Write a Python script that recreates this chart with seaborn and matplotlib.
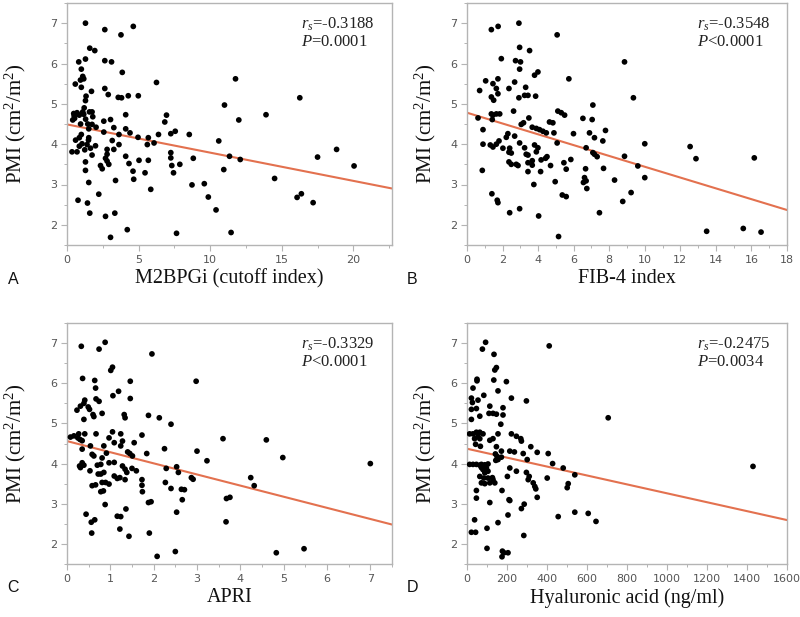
import numpy as np
import pandas as pd
import matplotlib
matplotlib.use("Agg")
import matplotlib.pyplot as plt
from matplotlib.ticker import MultipleLocator
import seaborn as sns

# ---------------- data ----------------
m2bpgi_x = [1.29, 2.64, 4.63, 3.77, 1.59, 1.94, 0.82, 1.29, 2.64, 3.11, 1.0, 3.86, 1.1, 1.17, 0.94,
            0.58, 1.0, 6.25, 11.77, 2.64, 1.71, 2.88, 1.33, 1.29, 3.58, 3.81, 4.28, 4.98, 16.26, 11.0,
            1.57, 1.75, 0.7, 0.86, 1.17, 0.53, 0.47, 4.1, 6.95, 3.04, 2.57, 6.83, 12.0, 13.9, 1.75,
            2.03, 1.52, 3.27, 4.1, 4.4, 2.57, 3.63, 4.96, 7.25, 7.56, 8.54, 6.39, 5.68, 6.08, 5.61,
            10.6, 1.0, 0.86, 1.52, 1.05, 0.86, 1.4, 1.64, 1.99, 1.24, 3.16, 3.63, 2.8, 3.27, 0.7,
            0.35, 1.75, 2.8, 4.1, 7.25, 7.25, 18.83, 11.35, 12.1, 17.5, 8.82, 2.69, 2.8, 2.92, 2.34,
            2.46, 5.03, 5.68, 4.33, 7.32, 7.88, 20.05, 1.29, 1.29, 10.95, 4.61, 5.45, 7.44, 4.66, 3.39,
            1.52, 14.5, 8.73, 9.59, 5.85, 2.22, 9.87, 16.07, 16.37, 17.19, 0.77, 1.43, 1.59, 2.69, 3.34,
            10.41, 4.21, 3.04, 7.65, 11.46, 0.5, 1.3, 1.45, 0.95, 1.2, 1.5, 0.6, 0.4, 1.1, 1.8]
m2bpgi_y = [7.0, 6.84, 6.92, 6.71, 6.38, 6.32, 6.04, 6.11, 6.07, 6.04, 5.86, 5.78, 5.68, 5.62, 5.59,
            5.49, 5.41, 5.53, 5.62, 5.38, 5.31, 5.23, 5.19, 5.08, 5.16, 5.15, 5.2, 5.2, 5.15, 4.97,
            4.8, 4.8, 4.78, 4.72, 4.74, 4.64, 4.76, 4.73, 4.72, 4.61, 4.57, 4.55, 4.6, 4.73, 4.49,
            4.42, 4.38, 4.41, 4.38, 4.28, 4.3, 4.24, 4.17, 4.26, 4.32, 4.24, 4.24, 4.16, 4.03, 3.99,
            4.08, 4.24, 4.16, 4.16, 4.01, 3.95, 3.99, 3.9, 3.96, 3.86, 4.09, 3.99, 3.87, 3.87, 3.81,
            3.81, 3.73, 3.75, 3.7, 3.79, 3.66, 3.87, 3.7, 3.62, 3.68, 3.65, 3.65, 3.58, 3.5, 3.47,
            3.39, 3.6, 3.6, 3.52, 3.47, 3.5, 3.46, 3.56, 3.35, 3.37, 3.33, 3.29, 3.29, 3.13, 3.1,
            3.05, 3.15, 2.99, 3.02, 2.88, 2.76, 2.69, 2.68, 2.77, 2.55, 2.61, 2.54, 2.29, 2.21, 2.29,
            2.37, 1.88, 1.69, 1.79, 1.81, 4.7, 4.62, 4.5, 4.5, 4.9, 4.1, 4.1, 4.6, 4.8, 4.68]

fib4_x = [1.37, 1.75, 2.92, 5.07, 2.96, 3.52, 1.93, 2.73, 3.01, 2.96, 3.99, 3.8, 8.86, 1.05, 1.46,
          1.74, 5.73, 2.68, 0.71, 1.65, 1.74, 2.36, 3.3, 1.37, 1.5, 2.92, 3.24, 3.43, 3.86, 9.36,
          7.08, 2.62, 1.37, 1.46, 1.65, 1.84, 1.42, 5.11, 5.3, 5.49, 0.62, 3.48, 6.52, 7.04, 4.64,
          4.83, 3.05, 3.18, 0.9, 3.67, 3.9, 4.08, 4.27, 4.46, 2.3, 2.21, 2.68, 4.89, 5.99, 6.89,
          7.79, 7.17, 7.64, 1.8, 1.65, 1.31, 1.46, 2.02, 2.4, 0.9, 2.96, 3.24, 3.8, 3.99, 5.07,
          6.7, 10.0, 12.55, 2.36, 2.49, 3.33, 3.43, 3.9, 4.5, 4.42, 4.17, 3.67, 7.08, 7.17, 7.32,
          8.86, 12.88, 16.16, 5.84, 2.36, 2.49, 2.77, 2.87, 3.43, 3.67, 4.7, 5.45, 5.58, 6.67, 7.68,
          9.61, 0.86, 3.43, 4.14, 6.61, 6.7, 6.55, 10.0, 8.3, 4.96, 3.76, 6.74, 1.4, 5.36, 5.58,
          9.23, 1.7, 1.74, 8.76, 2.96, 2.4, 7.45, 4.03, 13.48, 15.54, 16.54, 5.15]
fib4_y = [6.84, 6.92, 7.0, 6.71, 6.4, 6.32, 6.12, 6.07, 6.04, 5.86, 5.79, 5.71, 6.04, 5.57, 5.5,
          5.62, 5.62, 5.54, 5.33, 5.38, 5.25, 5.38, 5.41, 5.17, 5.09, 5.15, 5.21, 5.21, 5.19, 5.15,
          4.97, 4.82, 4.75, 4.72, 4.75, 4.75, 4.61, 4.82, 4.78, 4.72, 4.65, 4.65, 4.64, 4.61, 4.55,
          4.53, 4.49, 4.53, 4.36, 4.42, 4.39, 4.36, 4.32, 4.28, 4.26, 4.17, 4.2, 4.28, 4.26, 4.28,
          4.34, 4.16, 4.08, 4.08, 4.0, 3.98, 3.93, 3.9, 3.9, 4.0, 4.03, 3.91, 3.98, 3.91, 4.03,
          3.91, 4.01, 3.94, 3.8, 3.78, 3.75, 3.73, 3.81, 3.69, 3.65, 3.61, 3.59, 3.79, 3.75, 3.69,
          3.7, 3.64, 3.66, 3.62, 3.56, 3.5, 3.5, 3.47, 3.54, 3.48, 3.47, 3.54, 3.38, 3.39, 3.4,
          3.46, 3.35, 3.32, 3.32, 3.17, 3.09, 3.05, 3.17, 3.11, 3.07, 3.0, 2.9, 2.77, 2.74, 2.7,
          2.8, 2.61, 2.55, 2.58, 2.4, 2.3, 2.3, 2.22, 1.84, 1.91, 1.82, 1.71]

apri_x = [0.33, 0.74, 0.88, 1.96, 1.01, 1.05, 0.36, 0.64, 0.66, 1.46, 2.98, 1.19, 1.06, 1.46, 0.67,
          0.74, 0.41, 0.39, 0.31, 0.23, 0.49, 0.52, 0.81, 0.6, 0.62, 1.32, 1.34, 1.88, 2.13, 2.4,
          0.39, 0.27, 0.16, 0.08, 0.41, 0.3, 0.25, 0.35, 0.67, 1.05, 1.24, 0.97, 1.09, 1.28, 1.24,
          1.55, 1.73, 3.6, 4.6, 0.54, 0.85, 0.35, 1.4, 1.45, 1.51, 1.84, 2.25, 3.0, 0.91, 0.58,
          0.62, 3.23, 4.98, 7.0, 0.35, 0.29, 0.31, 0.39, 0.7, 0.78, 0.97, 1.09, 0.81, 1.28, 1.34,
          1.38, 1.5, 1.6, 0.53, 0.72, 0.78, 0.85, 1.09, 1.16, 1.22, 1.34, 2.29, 2.53, 2.57, 2.87,
          2.91, 2.27, 2.4, 2.64, 2.71, 1.73, 1.73, 1.74, 4.24, 4.32, 0.58, 0.66, 0.81, 0.89, 0.97,
          0.78, 0.84, 2.66, 3.68, 3.76, 0.88, 1.88, 1.94, 1.36, 0.44, 2.53, 1.16, 1.24, 0.64, 0.56,
          3.67, 1.22, 0.57, 1.9, 1.43, 2.5, 2.08, 4.83, 5.47]
apri_y = [6.92, 6.85, 7.02, 6.73, 6.32, 6.4, 6.12, 6.07, 5.88, 6.05, 6.05, 5.8, 5.69, 5.62, 5.61,
          5.55, 5.58, 5.5, 5.43, 5.33, 5.41, 5.35, 5.25, 5.22, 5.17, 5.22, 5.14, 5.2, 5.14, 4.98,
          5.1, 4.74, 4.69, 4.66, 4.74, 4.6, 4.64, 4.57, 4.74, 4.79, 4.74, 4.64, 4.52, 4.56, 4.44,
          4.52, 4.71, 4.62, 4.59, 4.44, 4.44, 4.36, 4.29, 4.25, 4.19, 4.25, 4.37, 4.31, 4.26, 4.23,
          4.19, 4.07, 4.15, 4.0, 4.02, 3.94, 3.9, 3.96, 3.96, 3.98, 4.02, 4.03, 4.14, 3.94, 3.86,
          3.78, 3.88, 3.82, 3.82, 3.74, 3.74, 3.78, 3.69, 3.63, 3.65, 3.6, 3.88, 3.92, 3.78, 3.65,
          3.61, 3.53, 3.38, 3.36, 3.35, 3.6, 3.46, 3.3, 3.65, 3.45, 3.45, 3.47, 3.53, 3.53, 3.49,
          3.3, 3.32, 3.1, 3.13, 3.16, 2.98, 3.03, 3.05, 2.87, 2.74, 2.79, 2.69, 2.68, 2.6, 2.54,
          2.55, 2.37, 2.27, 2.27, 2.19, 1.81, 1.69, 1.78, 1.88]

ha_x = [93, 77, 135, 411, 147, 139, 134, 197, 50, 50, 30, 155, 84, 22, 27, 55, 222, 297, 114, 180,
        22, 47, 110, 130, 147, 180, 22, 64, 169, 706, 13, 30, 47, 64, 80, 55, 38, 64, 155, 222,
        247, 269, 272, 114, 130, 147, 43, 67, 319, 172, 214, 237, 281, 351, 406, 142, 150, 301, 155,
        13, 30, 47, 64, 72, 89, 105, 172, 144, 214, 428, 481, 539, 1430, 72, 80, 89, 97, 105, 64,
        84, 105, 114, 72, 89, 130, 139, 127, 247, 297, 311, 306, 202, 401, 331, 339, 344, 506, 501,
        47, 175, 351, 47, 210, 214, 286, 114, 272, 205, 539, 606, 456, 645, 38, 155, 100, 22, 43,
        284, 100, 177, 205, 185, 175]
ha_y = [7.02, 6.85, 6.72, 6.93, 6.39, 6.33, 6.08, 6.04, 6.1, 6.06, 5.88, 5.81, 5.7, 5.63, 5.52,
        5.58, 5.63, 5.56, 5.43, 5.39, 5.35, 5.37, 5.25, 5.25, 5.23, 5.21, 5.1, 5.18, 4.98, 5.14,
        4.74, 4.74, 4.78, 4.78, 4.74, 4.68, 4.62, 4.62, 4.74, 4.74, 4.68, 4.62, 4.56, 4.58, 4.62,
        4.42, 4.48, 4.43, 4.42, 4.31, 4.31, 4.29, 4.25, 4.28, 4.25, 4.24, 4.18, 4.1, 4.1, 3.98,
        3.98, 3.98, 3.96, 3.98, 3.97, 3.99, 4.16, 4.08, 3.89, 4.0, 3.89, 3.72, 3.93, 3.9, 3.85,
        3.77, 3.89, 3.81, 3.68, 3.64, 3.64, 3.52, 3.52, 3.5, 3.6, 3.52, 3.65, 3.81, 3.78, 3.68,
        3.6, 3.68, 3.64, 3.52, 3.43, 3.37, 3.5, 3.4, 3.33, 3.33, 3.16, 3.14, 3.1, 3.08, 2.99,
        3.03, 2.88, 2.72, 2.79, 2.76, 2.68, 2.56, 2.6, 2.53, 2.39, 2.29, 2.29, 2.21, 1.89, 1.82,
        1.78, 1.78, 1.68]

# regression lines (intercept, slope)
line_intercepts = [4.49, 4.78, 4.56, 4.37]
line_slopes = [-0.0700, -0.1340, -0.2770, -0.00111]

panel_letters = ["A", "B", "C", "D"]
x_labels = ["M2BPGi (cutoff index)", "FIB-4 index", "APRI", "Hyaluronic acid (ng/ml)"]
r_values = ["-0.3188", "-0.3548", "-0.3329", "-0.2475"]
p_values = ["=0.0001", "<0.0001", "<0.0001", "=0.0034"]
x_limits = [22.7, 18, 7.5, 1600]
x_major = [5, 2, 1, 200]
x_minor = [2.5, 1, 0.5, 100]
y_ticks = [2, 3, 4, 5, 6, 7]

xs = [m2bpgi_x, fib4_x, apri_x, ha_x]
ys = [m2bpgi_y, fib4_y, apri_y, ha_y]

# ---------------- style ----------------
sns.set_style("white")
plt.rcParams["font.family"] = ["DejaVu Sans"]
plt.rcParams["mathtext.fontset"] = "custom"
plt.rcParams["mathtext.rm"] = "Liberation Serif"
plt.rcParams["mathtext.it"] = "Liberation Serif:italic"

SERIF = ["Liberation Serif", "DejaVu Serif"]
FRAME = "#b4b4b4"
TICKC = "#555555"
LINEC = "#e3714f"

fig = plt.figure(figsize=(8.0, 6.17), dpi=100)
W, H = 800.0, 617.0
boxes = [(67, 3, 392, 245), (467, 3, 787, 245), (67, 323, 392, 564), (467, 323, 787, 564)]
letter_pos = [(13, 280), (412, 280), (13, 588), (412, 588)]
ylabel_pads = [16, 9, 16, 9]

for i in range(4):
    l, t, r, b = boxes[i]
    ax = fig.add_axes([l / W, 1 - b / H, (r - l) / W, (b - t) / H])
    df = pd.DataFrame({"x": xs[i], "y": ys[i]})
    sns.scatterplot(data=df, x="x", y="y", ax=ax, color="black", s=17,
                    edgecolor="none", linewidth=0, zorder=3)
    xl = pd.DataFrame({"x": [0, x_limits[i]]})
    xl["y"] = line_intercepts[i] + line_slopes[i] * xl["x"]
    sns.lineplot(data=xl, x="x", y="y", ax=ax, color=LINEC, linewidth=1.5, zorder=2)

    ax.set_xlim(0, x_limits[i])
    ax.set_ylim(1.5, 7.5)
    ax.xaxis.set_major_locator(MultipleLocator(x_major[i]))
    ax.xaxis.set_minor_locator(MultipleLocator(x_minor[i]))
    ax.set_yticks(y_ticks)
    ax.yaxis.set_minor_locator(MultipleLocator(0.5))
    for s in ax.spines.values():
        s.set_color(FRAME)
        s.set_linewidth(1.0)
    ax.tick_params(which="major", direction="out", length=4, width=0.8, color=FRAME,
                   labelsize=8, labelcolor=TICKC, pad=3, bottom=True, left=True)
    ax.tick_params(which="minor", direction="out", length=2, width=0.7, color=FRAME,
                   bottom=True, left=True)

    ax.set_xlabel(x_labels[i], family=SERIF, fontsize=14.5, color="#111111", labelpad=3)
    ax.set_ylabel("PMI (cm$^2$/m$^2$)", family=SERIF, fontsize=15, color="#111111",
                  labelpad=ylabel_pads[i])

    ax.text(0.72, 0.91, r"$r_s$=" + r_values[i], transform=ax.transAxes,
            family=SERIF, fontsize=12, ha="left", va="center", color="#222222")
    ax.text(0.72, 0.84, r"$P$" + p_values[i], transform=ax.transAxes,
            family=SERIF, fontsize=12, ha="left", va="center", color="#222222")

    lx, ly = letter_pos[i]
    fig.text(lx / W, 1 - ly / H, panel_letters[i], family=["Liberation Sans", "DejaVu Sans"],
             fontsize=11.5, ha="center", va="center", color="#111111")

fig.savefig("out.png", dpi=100)
